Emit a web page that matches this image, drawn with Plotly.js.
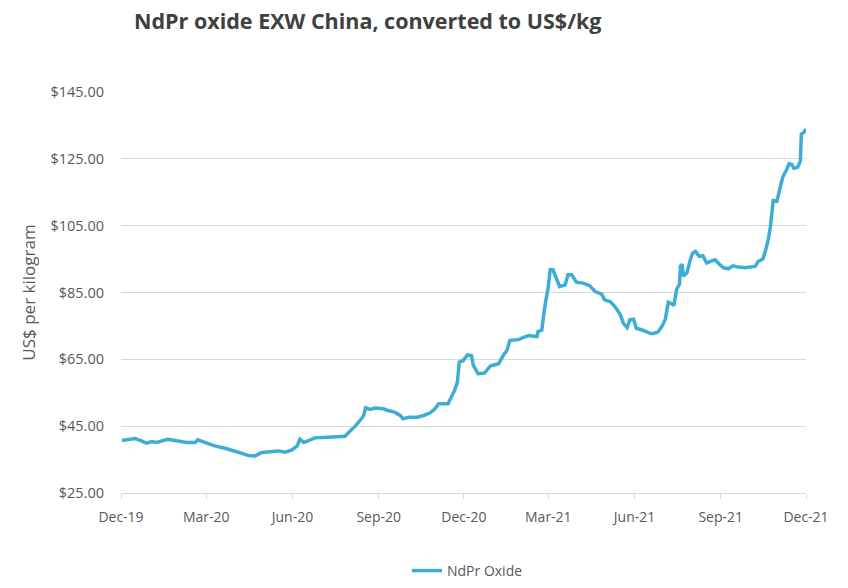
<!DOCTYPE html>
<html>
<head>
<meta charset="utf-8">
<script src="https://cdn.plot.ly/plotly-3.0.1.min.js"></script>
<style>
  html, body { margin: 0; padding: 0; background: #fff; }
  #chart { width: 848px; height: 588px; }
</style>
</head>
<body>
<div id="chart"></div>
<script>
const dates = [
  '2019-12-02','2019-12-08','2019-12-16','2019-12-23','2019-12-28','2020-01-03','2020-01-08','2020-01-20','2020-01-31',
  '2020-02-09','2020-02-18','2020-02-21','2020-02-29','2020-03-10','2020-03-21','2020-04-01','2020-04-09','2020-04-15',
  '2020-04-22','2020-04-29','2020-05-10','2020-05-17','2020-05-24','2020-05-31','2020-06-06','2020-06-09','2020-06-13',
  '2020-06-25','2020-07-09','2020-07-20','2020-07-27','2020-08-01','2020-08-07','2020-08-12','2020-08-16','2020-08-18',
  '2020-08-23','2020-08-28','2020-09-06','2020-09-11','2020-09-18','2020-09-24','2020-09-27','2020-10-04','2020-10-12',
  '2020-10-19','2020-10-26','2020-10-31','2020-11-04','2020-11-14','2020-11-18','2020-11-21','2020-11-24','2020-11-26',
  '2020-11-30','2020-12-05','2020-12-09','2020-12-11','2020-12-16','2020-12-23','2020-12-29','2021-01-07','2021-01-12',
  '2021-01-16','2021-01-19','2021-01-28','2021-02-02','2021-02-08','2021-02-17','2021-02-18','2021-02-22','2021-02-25',
  '2021-03-01','2021-03-03','2021-03-06','2021-03-10','2021-03-13','2021-03-19','2021-03-22','2021-03-26','2021-03-31',
  '2021-04-07','2021-04-14','2021-04-20','2021-04-27','2021-04-30','2021-05-06','2021-05-11','2021-05-17','2021-05-20',
  '2021-05-24','2021-05-27','2021-05-31','2021-06-03','2021-06-10','2021-06-18','2021-06-21','2021-06-26','2021-06-30',
  '2021-07-04','2021-07-07','2021-07-11','2021-07-13','2021-07-16','2021-07-19','2021-07-20','2021-07-22','2021-07-23',
  '2021-07-27','2021-07-30','2021-08-02','2021-08-05','2021-08-09','2021-08-13','2021-08-17','2021-08-21','2021-08-26',
  '2021-08-31','2021-09-04','2021-09-09','2021-09-14','2021-09-20','2021-09-27','2021-10-02','2021-10-08','2021-10-11',
  '2021-10-16','2021-10-19','2021-10-22','2021-10-24','2021-10-27','2021-10-31','2021-11-03','2021-11-06','2021-11-10',
  '2021-11-13','2021-11-16','2021-11-18','2021-11-22','2021-11-25','2021-11-26','2021-11-28','2021-12-01'
];
const ndprOxide = [
  40.7, 41.0, 41.3, 40.6, 39.9, 40.4, 40.1, 41.1, 40.6,
  40.1, 40.1, 40.9, 40.1, 39.1, 38.4, 37.6, 36.8, 36.2,
  36.1, 37.1, 37.4, 37.6, 37.2, 37.8, 39.1, 41.1, 40.1,
  41.5, 41.7, 42.0, 42.0, 43.4, 45.0, 46.7, 48.2, 50.5,
  50.0, 50.4, 50.2, 49.7, 49.2, 48.2, 47.2, 47.7, 47.7,
  48.2, 49.0, 50.2, 51.7, 51.7, 53.7, 55.7, 58.2, 64.2,
  64.6, 66.4, 66.1, 63.2, 60.7, 60.9, 63.0, 63.7, 66.2,
  67.7, 70.7, 70.9, 71.5, 72.1, 71.8, 73.3, 73.7, 80.3,
  86.8, 91.8, 91.8, 89.3, 86.8, 87.3, 90.3, 90.3, 88.1,
  87.8, 87.1, 85.3, 84.5, 82.8, 82.3, 80.8, 78.3, 75.8,
  74.5, 76.8, 77.0, 74.3, 73.7, 72.7, 72.7, 73.2, 74.7,
  77.1, 82.1, 81.6, 81.1, 86.0, 87.5, 92.9, 93.4, 89.9,
  90.9, 94.3, 96.8, 97.3, 95.8, 96.0, 93.8, 94.3, 94.8,
  93.3, 92.4, 92.1, 93.0, 92.6, 92.4, 92.6, 92.9, 94.3,
  95.0, 97.8, 101.2, 104.7, 112.5, 112.3, 116.0, 119.4, 121.6,
  123.5, 123.3, 122.2, 122.5, 124.3, 132.4, 132.7, 133.9
];
const seriesName = 'NdPr Oxide';
const chartTitle = 'NdPr oxide EXW China, converted to US$/kg';
const yTitle = 'US$ per kilogram';

const fontFam = '"Open Sans", "Noto Sans", sans-serif';
const grey = '#595959';

const trace = {
  x: dates,
  y: ndprOxide,
  type: 'scatter',
  mode: 'lines',
  name: seriesName,
  line: { color: '#3DADD6', width: 3.5, shape: 'linear' },
  hoverinfo: 'x+y'
};

const layout = {
  width: 848,
  height: 588,
  paper_bgcolor: '#ffffff',
  plot_bgcolor: '#ffffff',
  margin: { l: 121, r: 42, t: 92, b: 95, autoexpand: false },
  font: { family: fontFam, color: grey, size: 14 },
  title: {
    text: '<b>' + chartTitle + '</b>',
    font: { family: fontFam, size: 21.5, color: '#404040' },
    x: 134 / 848, xanchor: 'left', xref: 'container',
    y: 1 - 21 / 588, yanchor: 'middle', yref: 'container'
  },
  xaxis: {
    type: 'date',
    range: ['2019-12-01', '2021-12-01'],
    tick0: '2019-12-01',
    dtick: 'M3',
    tickformat: '%b-%y',
    showgrid: false,
    showline: true,
    linecolor: '#d9d9d9',
    linewidth: 1,
    ticks: 'outside',
    ticklen: 5,
    tickcolor: '#d9d9d9',
    ticklabelstandoff: 6,
    tickfont: { family: fontFam, size: 14, color: grey },
    zeroline: false,
    automargin: false,
    fixedrange: true
  },
  yaxis: {
    range: [25, 145],
    tick0: 25,
    dtick: 20,
    tickformat: '$,.2f',
    showgrid: true,
    gridcolor: '#d9d9d9',
    gridwidth: 1,
    showline: false,
    zeroline: false,
    ticks: '',
    ticklabelstandoff: 16,
    tickfont: { family: fontFam, size: 14.5, color: grey },
    title: { text: yTitle, font: { family: fontFam, size: 17, color: grey }, standoff: 10 },
    automargin: false,
    fixedrange: true
  },
  showlegend: true,
  legend: {
    orientation: 'h',
    x: 0.5 + 4 / 685, xanchor: 'center',
    yref: 'container',
    y: 17 / 588, yanchor: 'middle',
    font: { family: fontFam, size: 14, color: grey },
    bgcolor: 'rgba(0,0,0,0)'
  }
};

Plotly.newPlot('chart', [trace], layout, { displayModeBar: false, staticPlot: true });
</script>
</body>
</html>
